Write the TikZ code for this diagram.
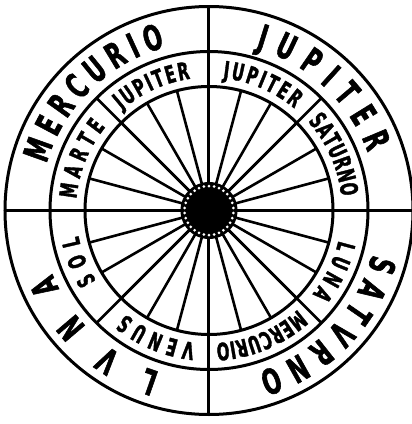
\documentclass[tikz,border=0pt]{standalone}
\usepackage{fontspec}
\newfontfamily\wheelfont{DejaVu Sans}[FakeStretch=0.62, FakeBold=1.5]
\newcommand\outerfont{\wheelfont\bfseries\fontsize{35}{35}\selectfont}
\newcommand\innerfont{\wheelfont\bfseries\fontsize{24}{24}\selectfont}
\usetikzlibrary{decorations.text}

\tikzset{
  ring/.style={line width=3pt},
  spoke/.style={line width=2.6pt},
  outerlabel/.style={decorate, decoration={text along path, text align={fit to path}, text={|\outerfont|#1}}},
  innerlabel/.style={decorate, decoration={text along path, text align={fit to path}, text={|\innerfont|#1}}}
}

\begin{document}
\begin{tikzpicture}
  \useasboundingbox (-209pt,-213.5pt) rectangle (203pt,210.5pt);

  % Spokes of the wheel
  \foreach \a in {0,15,...,345}
    \draw[spoke] (0,0) -- (\a:124pt);

  % Dividers of the inner ring
  \foreach \a in {45,135,225,315}
    \draw[spoke] (0,0) -- (\a:159pt);

  % Dividers of the outer ring
  \draw[ring] (-204pt,0) -- (204pt,0);
  \draw[ring] (0,-204pt) -- (0,204pt);

  % Circles
  \draw[ring] (0,0) circle (124pt);
  \draw[ring] (0,0) circle (159pt);
  \draw[ring] (0,0) circle (204pt);

  % Hub with a ring of white dots
  \fill[black] (0,0) circle (28.5pt);
  \foreach \a in {6,18,...,354}
    \fill[white] (\a:24.5pt) circle (1.5pt);

  % Outer ring labels
  \path[outerlabel=MERCURIO] (164:169pt) arc[start angle=164, end angle=105, radius=169pt];
  \path[outerlabel=JUPITER] (74:169pt) arc[start angle=74, end angle=20, radius=169pt];
  \path[outerlabel=SATVRNO] (-15:169pt) arc[start angle=-15, end angle=-73, radius=169pt];
  \path[outerlabel=LVNA] (253:169pt) arc[start angle=253, end angle=202, radius=169pt];

  % Inner ring labels
  \path[innerlabel=MARTE] (175:133pt) arc[start angle=175, end angle=141, radius=133pt];
  \path[innerlabel=JUPITER] (131:133pt) arc[start angle=131, end angle=98, radius=133pt];
  \path[innerlabel=JUPITER] (84:133pt) arc[start angle=84, end angle=50, radius=133pt];
  \path[innerlabel=SATURNO] (42:133pt) arc[start angle=42, end angle=6, radius=133pt];
  \path[innerlabel=LUNA] (-13:133pt) arc[start angle=-13, end angle=-39, radius=133pt];
  \path[innerlabel=MERCURIO] (-48:133pt) arc[start angle=-48, end angle=-87, radius=133pt];
  \path[innerlabel=VENUS] (264:133pt) arc[start angle=264, end angle=231, radius=133pt];
  \path[innerlabel=SOL] (212:133pt) arc[start angle=212, end angle=191, radius=133pt];
\end{tikzpicture}
\end{document}
